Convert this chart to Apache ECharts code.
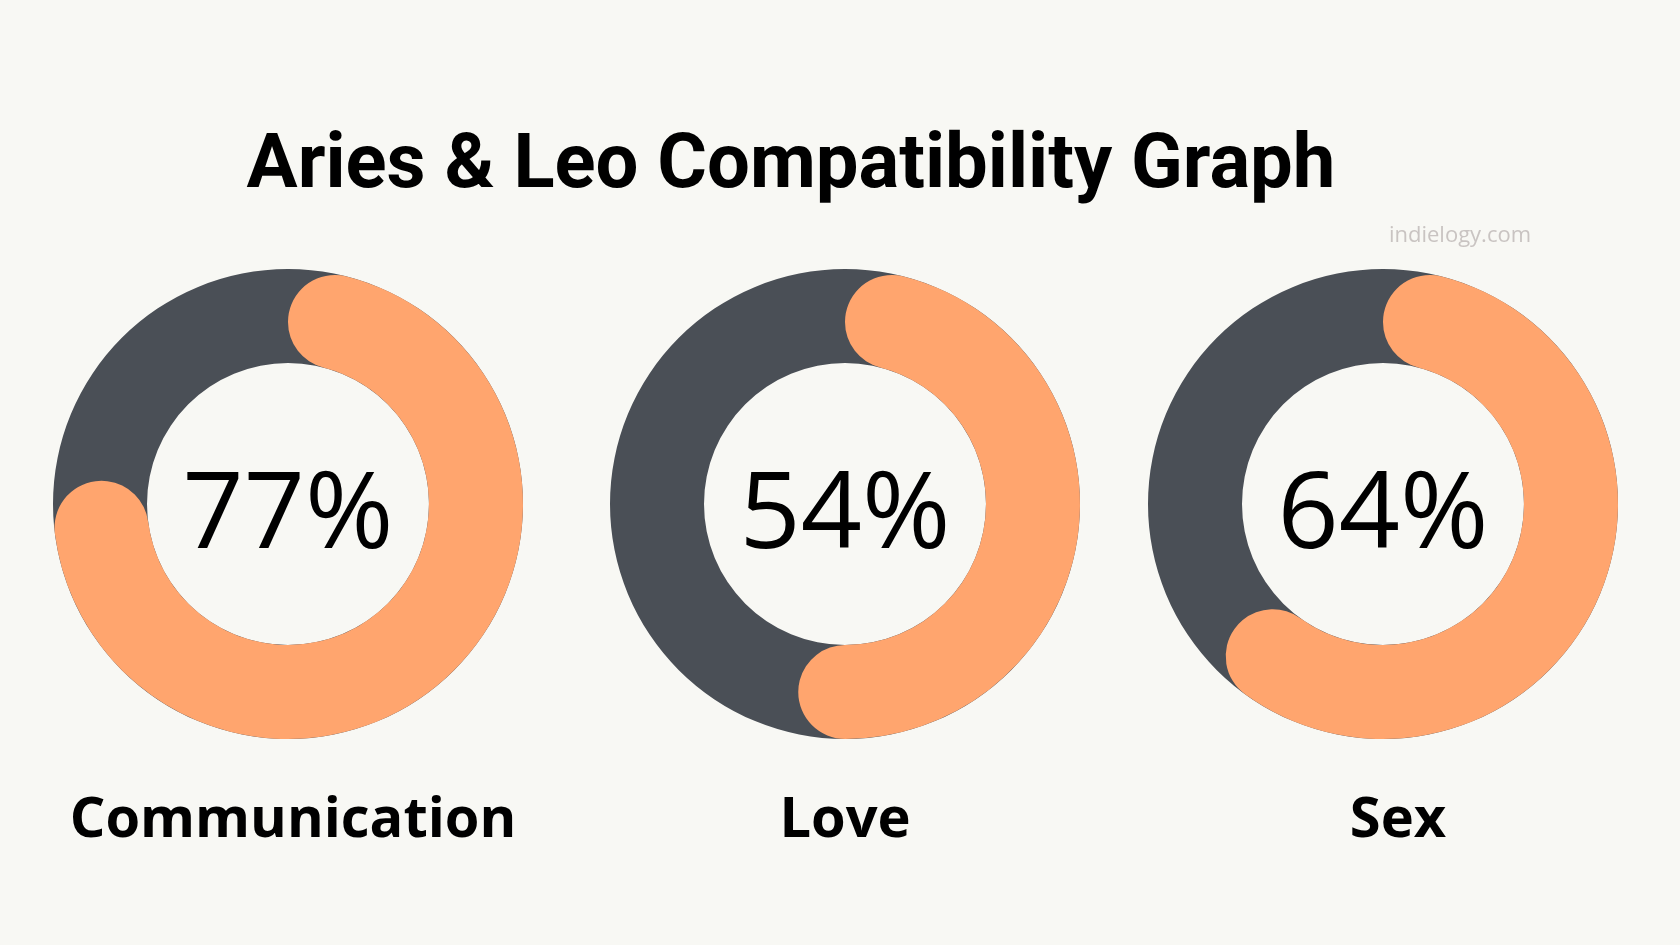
<!DOCTYPE html>
<html>
<head>
<meta charset="utf-8">
<script src="https://cdn.jsdelivr.net/npm/echarts@6/dist/echarts.min.js"></script>
<style>
html,body{margin:0;padding:0;background:#F8F8F4;}
#chart{width:1680px;height:945px;}
</style>
</head>
<body>
<div id="chart"></div>
<script>
const categories = ['Communication', 'Love', 'Sex'];
const values = [77, 54, 64];
const titleText = 'Aries & Leo Compatibility Graph';
const watermark = 'indielogy.com';

const centersX = [288, 845, 1383];
const centerY = 504;
const outerR = 235;
const innerR = 141;
const capR = (outerR - innerR) / 2;
const orange = '#FFA56E';
const gray = '#4A4F56';

const series = [];
const graphics = [];
categories.forEach((cat, i) => {
  series.push({
    type: 'pie', silent: true, center: [centersX[i], centerY], radius: [innerR, outerR],
    startAngle: 90, label: { show: false }, labelLine: { show: false },
    itemStyle: { color: gray, borderWidth: 0 },
    data: [{ value: 100, name: cat + '-bg' }], animation: false, z: 1
  });
  series.push({
    type: 'pie', silent: true, center: [centersX[i], centerY], radius: [innerR, outerR],
    startAngle: 90, clockwise: true, label: { show: false }, labelLine: { show: false },
    itemStyle: { borderRadius: capR, borderWidth: 0 },
    data: [
      { value: values[i], name: cat, itemStyle: { color: orange } },
      { value: 100 - values[i], name: cat + '-rest', itemStyle: { color: 'rgba(0,0,0,0)' } }
    ],
    animation: false, z: 2
  });
  graphics.push({
    type: 'text', x: centersX[i], y: centerY + 14, z: 10,
    style: { text: values[i] + '%', fill: '#000', font: '400 107px "Open Sans"', textAlign: 'center', textVerticalAlign: 'middle' }
  });
  graphics.push({
    type: 'text', x: centersX[i] + (i === 2 ? 15 : (i === 0 ? 5 : 0)), y: 821, z: 10,
    style: { text: cat, fill: '#000', font: '700 56px "Open Sans"', textAlign: 'center', textVerticalAlign: 'middle' }
  });
});
graphics.push({
  type: 'text', x: 791, y: 168, z: 10,
  style: { text: titleText, fill: '#000', font: '700 76px Roboto', textAlign: 'center', textVerticalAlign: 'middle' }
});
graphics.push({
  type: 'text', x: 1460, y: 236, z: 10,
  style: { text: watermark, fill: '#C9C4C2', font: '400 22px "Open Sans"', textAlign: 'center', textVerticalAlign: 'middle' }
});

const chart = echarts.init(document.getElementById('chart'));
chart.setOption({
  backgroundColor: '#F8F8F4',
  animation: false,
  series: series,
  graphic: graphics
});
</script>
</body>
</html>
